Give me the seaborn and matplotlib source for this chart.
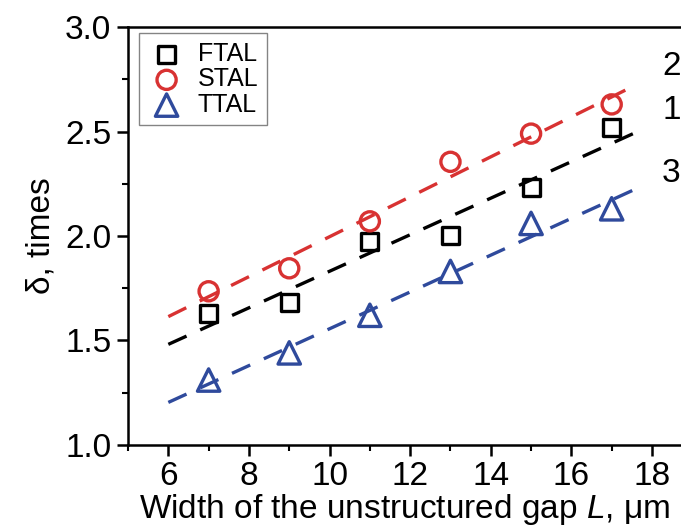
import numpy as np
import pandas as pd
import matplotlib
matplotlib.use("Agg")
import matplotlib.pyplot as plt
import seaborn as sns
from matplotlib.ticker import MultipleLocator

# data
gap = [7, 9, 11, 13, 15, 17]
ftal = [1.63, 1.68, 1.975, 2.00, 2.23, 2.52]
stal = [1.735, 1.845, 2.07, 2.355, 2.49, 2.63]
ttal = [1.31, 1.44, 1.62, 1.83, 2.06, 2.13]

series = ["FTAL", "STAL", "TTAL"]
values = [ftal, stal, ttal]
curve_ids = ["1", "2", "3"]
curve_y = [2.60, 2.81, 2.30]

colors = ["black", "#d83232", "#2f4a9c"]
markers = ["s", "o", "^"]
sizes = [150, 190, 260]

sns.set_theme(style="ticks")
plt.rcParams["font.family"] = ["Liberation Sans", "DejaVu Sans"]
plt.rcParams["mathtext.fontset"] = "custom"
plt.rcParams["mathtext.rm"] = "Liberation Sans"
plt.rcParams["mathtext.it"] = "Liberation Sans:italic"
plt.rcParams["text.color"] = "black"
plt.rcParams["axes.labelcolor"] = "black"
plt.rcParams["xtick.color"] = "black"
plt.rcParams["ytick.color"] = "black"

fig = plt.figure(figsize=(6.81, 5.32), dpi=100)
ax = fig.add_axes([0.188, 0.164, 0.812, 0.785])

x_fit = np.array([6.0, 17.6])
for name, vals, c, m, s in zip(series, values, colors, markers, sizes):
    k, b = np.polyfit(gap, vals, 1)
    sns.lineplot(x=x_fit, y=k * x_fit + b, color=c, linestyle=(0, (6, 4.5)),
                 linewidth=2.4, ax=ax, legend=False)
    sns.scatterplot(x=gap, y=vals, marker=m, s=s, facecolor="none",
                    edgecolor=c, linewidth=2.4, label=name, ax=ax, zorder=3)

for cid, cy in zip(curve_ids, curve_y):
    ax.text(18.25, cy, cid, fontsize=24, ha="left", va="center")

ax.set_xlim(5, 18.72)
ax.set_ylim(1.0, 3.0)
ax.xaxis.set_major_locator(MultipleLocator(2))
ax.xaxis.set_minor_locator(MultipleLocator(1))
ax.yaxis.set_major_locator(MultipleLocator(0.5))
ax.yaxis.set_minor_locator(MultipleLocator(0.25))
ax.tick_params(which="major", length=8, width=1.8, labelsize=24, pad=4)
ax.tick_params(which="minor", length=4.5, width=1.5)
ax.set_xticks([6, 8, 10, 12, 14, 16, 18])

for side in ["left", "bottom", "top"]:
    ax.spines[side].set_linewidth(1.8)
    ax.spines[side].set_color("black")
ax.spines["right"].set_visible(False)

ax.set_xlabel("Width of the unstructured gap $L$, μm", fontsize=24, labelpad=0)
ax.set_ylabel("δ, times", fontsize=24, labelpad=6)

leg = ax.legend(loc="upper left", bbox_to_anchor=(0.02, 0.985), fontsize=18,
                frameon=True, fancybox=False, edgecolor="#666666",
                handletextpad=0.5, borderpad=0.35, labelspacing=0.05,
                handlelength=1.5, borderaxespad=0.0)
leg.get_frame().set_linewidth(1.0)

fig.savefig("out.png", dpi=100)
